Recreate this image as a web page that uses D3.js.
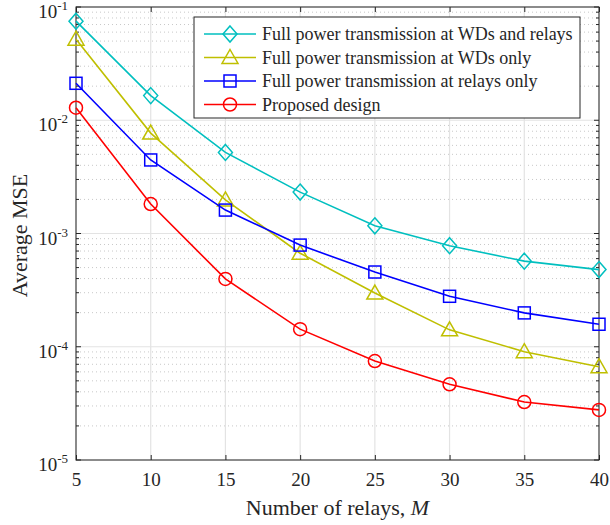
<!DOCTYPE html>
<html>
<head>
<meta charset="utf-8">
<script src="https://cdn.jsdelivr.net/npm/d3@7"></script>
<style>
  body { margin: 0; background: #fff; }
  text { font-family: "Liberation Serif", "DejaVu Serif", serif; fill: #262626; }
</style>
</head>
<body>
<div id="chart"></div>
<script>
var WIDTH = 610, HEIGHT = 525;
var margin = {left: 76, right: 11, top: 7, bottom: 65};

// number of relays
var relays = [5, 10, 15, 20, 25, 30, 35, 40];
var xTicks = [5, 10, 15, 20, 25, 30, 35, 40];
var yTicks = [1e-5, 1e-4, 1e-3, 1e-2, 1e-1];

// average MSE
var fullBoth   = [0.075, 0.0165, 0.0052, 0.00232, 0.00117, 0.00078, 0.00057, 0.00048];
var fullWDs    = [0.052, 0.0077, 0.00198, 0.00067, 0.000298, 0.000141, 0.0000904, 0.0000667];
var fullRelays = [0.0212, 0.00446, 0.00161, 0.00079, 0.000457, 0.000279, 0.000199, 0.000158];
var proposed   = [0.0129, 0.00182, 0.000397, 0.000143, 0.0000748, 0.0000466, 0.0000325, 0.0000277];

var seriesNames = ['Full power transmission at WDs and relays',
                   'Full power transmission at WDs only',
                   'Full power transmission at relays only',
                   'Proposed design'];
var seriesColors = ['#00bfbf', '#bfbf00', '#0000ff', '#ff0000'];
var seriesMarkers = ['diamond', 'triangle', 'square', 'circle'];
var seriesValues = [fullBoth, fullWDs, fullRelays, proposed];

var svg = d3.select('#chart').append('svg')
    .attr('width', WIDTH)
    .attr('height', HEIGHT);

var x = d3.scaleLinear().domain([5, 40]).range([margin.left, WIDTH - margin.right]);
var y = d3.scaleLog().domain([1e-5, 1e-1]).range([HEIGHT - margin.bottom, margin.top]);

var x0 = x.range()[0], x1 = x.range()[1];
var yB = y.range()[0], yT = y.range()[1];

// minor values between decades
var minors = [];
for (var e = -5; e < -1; e++) {
    for (var k = 2; k <= 9; k++) minors.push(k * Math.pow(10, e));
}

//grid
var grid = svg.append('g').attr('class', 'grid');
grid.selectAll('.minor').data(minors).enter().append('line')
    .attr('x1', x0).attr('x2', x1)
    .attr('y1', d => y(d)).attr('y2', d => y(d))
    .attr('stroke', '#c8c8c8').attr('stroke-width', 1)
    .attr('stroke-dasharray', '1,3');
grid.selectAll('.vmaj').data(xTicks).enter().append('line')
    .attr('x1', d => x(d)).attr('x2', d => x(d))
    .attr('y1', yB).attr('y2', yT)
    .attr('stroke', '#e3e3e3').attr('stroke-width', 1.2);
grid.selectAll('.hmaj').data(yTicks).enter().append('line')
    .attr('x1', x0).attr('x2', x1)
    .attr('y1', d => y(d)).attr('y2', d => y(d))
    .attr('stroke', '#e3e3e3').attr('stroke-width', 1.2);

//axes with inward ticks
var axisColor = '#262626';
var xAxis = d3.axisBottom(x).tickValues(xTicks).tickSize(-5).tickPadding(13).tickFormat(d3.format('d'));
var gx = svg.append('g').attr('transform', 'translate(0,' + yB + ')').call(xAxis);
gx.select('.domain').remove();
gx.selectAll('line').attr('stroke', axisColor);
gx.selectAll('text').style('font-size', '19px').attr('fill', axisColor);

var xTop = d3.axisTop(x).tickValues(xTicks).tickSize(-5).tickFormat('');
var gxt = svg.append('g').attr('transform', 'translate(0,' + yT + ')').call(xTop);
gxt.select('.domain').remove();
gxt.selectAll('line').attr('stroke', axisColor);

function yTickLines(side) {
    var sgn = side === 'left' ? 1 : -1;
    var xp = side === 'left' ? x0 : x1;
    var g = svg.append('g');
    g.selectAll('.maj').data(yTicks).enter().append('line')
        .attr('x1', xp).attr('x2', xp + sgn * 5)
        .attr('y1', d => y(d)).attr('y2', d => y(d))
        .attr('stroke', axisColor);
    g.selectAll('.min').data(minors).enter().append('line')
        .attr('x1', xp).attr('x2', xp + sgn * 3)
        .attr('y1', d => y(d)).attr('y2', d => y(d))
        .attr('stroke', axisColor);
}
yTickLines('left');
yTickLines('right');

// y tick labels 10^n
var yl = svg.append('g');
yTicks.forEach(function(t) {
    var txt = yl.append('text')
        .attr('x', x0 - 8)
        .attr('y', y(t) + 11)
        .attr('text-anchor', 'end')
        .style('font-size', '19px');
    txt.append('tspan').text('10');
    txt.append('tspan').attr('dy', -8).style('font-size', '13px').text(Math.round(Math.log10(t)));
});

// box
svg.append('rect')
    .attr('x', x0).attr('y', yT)
    .attr('width', x1 - x0).attr('height', yB - yT)
    .attr('fill', 'none').attr('stroke', axisColor).attr('stroke-width', 1);

// axis titles
svg.append('text')
    .attr('x', (x0 + x1) / 2).attr('y', 515)
    .attr('text-anchor', 'middle')
    .style('font-size', '22px')
    .html('Number of relays, <tspan font-style="italic">M</tspan>');
svg.append('text')
    .attr('transform', 'translate(27,' + ((yB + yT) / 2 + 2) + ') rotate(-90)')
    .attr('text-anchor', 'middle')
    .style('font-size', '22px')
    .text('Average MSE');

// marker drawing
function drawMarker(g, type, cx, cy, color) {
    if (type === 'circle') {
        g.append('circle').attr('cx', cx).attr('cy', cy).attr('r', 6.5)
            .attr('fill', 'none').attr('stroke', color).attr('stroke-width', 1.5);
    } else if (type === 'square') {
        g.append('rect').attr('x', cx - 6).attr('y', cy - 6).attr('width', 12).attr('height', 12)
            .attr('fill', 'none').attr('stroke', color).attr('stroke-width', 1.5);
    } else if (type === 'diamond') {
        g.append('path').attr('d', 'M' + cx + ',' + (cy - 8) + 'L' + (cx + 7) + ',' + cy + 'L' + cx + ',' + (cy + 8) + 'L' + (cx - 7) + ',' + cy + 'Z')
            .attr('fill', 'none').attr('stroke', color).attr('stroke-width', 1.5);
    } else {
        g.append('path').attr('d', 'M' + cx + ',' + (cy - 8) + 'L' + (cx + 8) + ',' + (cy + 6) + 'L' + (cx - 8) + ',' + (cy + 6) + 'Z')
            .attr('fill', 'none').attr('stroke', color).attr('stroke-width', 1.5);
    }
}

// series
var line = d3.line().x(d => x(d[0])).y(d => y(d[1]));
seriesValues.forEach(function(vals, i) {
    var pts = relays.map((r, j) => [r, vals[j]]);
    var g = svg.append('g');
    g.append('path').datum(pts)
        .attr('d', line)
        .attr('fill', 'none')
        .attr('stroke', seriesColors[i])
        .attr('stroke-width', 1.6);
    pts.forEach(function(p) {
        drawMarker(g, seriesMarkers[i], x(p[0]), y(p[1]), seriesColors[i]);
    });
});

// legend
var lg = svg.append('g');
lg.append('rect')
    .attr('x', 194).attr('y', 17).attr('width', 386).attr('height', 101)
    .attr('fill', '#fff').attr('stroke', axisColor).attr('stroke-width', 1);
seriesNames.forEach(function(name, i) {
    var ly = 34 + i * 23.5;
    lg.append('line').attr('x1', 204).attr('x2', 256).attr('y1', ly).attr('y2', ly)
        .attr('stroke', seriesColors[i]).attr('stroke-width', 1.6);
    drawMarker(lg, seriesMarkers[i], 230, ly, seriesColors[i]);
    lg.append('text').attr('x', 262).attr('y', ly + 6)
        .style('font-size', '18px')
        .text(name);
});
</script>
</body>
</html>
